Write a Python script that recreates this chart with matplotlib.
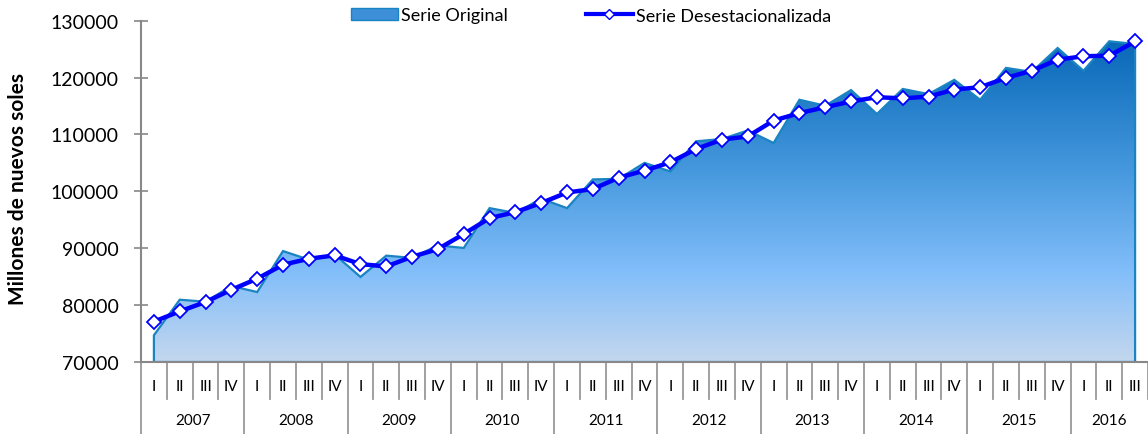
import numpy as np
import matplotlib
matplotlib.use("Agg")
import matplotlib.pyplot as plt
from matplotlib.colors import LinearSegmentedColormap
from matplotlib.patches import Polygon, Patch
from matplotlib.lines import Line2D
import matplotlib.transforms as mtransforms

plt.rcParams['font.family'] = ['Lato', 'DejaVu Sans']

# Quarterly data 2007-I .. 2016-III (millones de nuevos soles)
years = ['2007', '2008', '2009', '2010', '2011', '2012', '2013', '2014', '2015', '2016']
quarters = ['I', 'II', 'III', 'IV']
serie_original = [74700, 80950, 80600, 83350, 82300, 89500, 88000, 88900,
                  84950, 88700, 88300, 90500, 90050, 97050, 96200, 98700,
                  97050, 102100, 102200, 105000, 103500, 108800, 109200, 110700,
                  108500, 116100, 115050, 117800, 113600, 118000, 117100, 119600,
                  116100, 121700, 121000, 125200, 121200, 126380, 125900]
serie_desest = [77100, 78900, 80550, 82700, 84650, 87100, 88150, 88750,
                87200, 86800, 88500, 89850, 92500, 95300, 96350, 97950,
                99800, 100400, 102400, 103650, 105100, 107450, 109100, 109650,
                112450, 113750, 114800, 115800, 116550, 116350, 116650, 117900,
                118300, 119950, 121200, 123150, 123750, 123850, 126350]

n = len(serie_original)
x = np.arange(n)
q_labels = [quarters[i % 4] for i in range(n)]
ybase = 70000

fig = plt.figure(figsize=(11.48, 4.35), dpi=100)
ax = fig.add_axes([141 / 1148, 1 - 363 / 435, 1 - 141 / 1148, (363 - 21.7) / 435])

# gradient filled area for the original series
cmap = LinearSegmentedColormap.from_list('area', [(0.0, '#c4d7ee'), (0.28, '#82befa'),
                                                  (0.6, '#4598dd'), (1.0, '#0868b8')])
orig = np.array(serie_original)
verts = np.column_stack([np.r_[x[0], x, x[-1]], np.r_[ybase, orig, ybase]])
poly = Polygon(verts, closed=True, facecolor='none', edgecolor='#1a84c2', lw=1.6, zorder=2)
ax.add_patch(poly)
grad = np.linspace(0, 1, 256).reshape(-1, 1)
im = ax.imshow(grad, extent=[x[0], x[-1], ybase, orig.max()], origin='lower',
               aspect='auto', cmap=cmap, zorder=1)
im.set_clip_path(poly)

# seasonally adjusted line
ax.plot(x, serie_desest, color='#0000ff', lw=3.2, marker='D', markersize=7,
        markerfacecolor='white', markeredgecolor='#0000ff', markeredgewidth=1.3, zorder=3)

ax.set_xlim(-0.5, n - 0.5)
ax.set_ylim(70000, 130000)
yt = np.arange(70000, 130001, 10000)
ax.set_yticks(yt)
ax.set_yticklabels([str(v) for v in yt], fontsize=14)
ax.tick_params(axis='y', direction='inout', length=10, width=1.2, color='#888888', pad=11)
ax.set_xticks([])
for s in ['top', 'right']:
    ax.spines[s].set_visible(False)
for s in ['left', 'bottom']:
    ax.spines[s].set_color('#888888')
    ax.spines[s].set_linewidth(1.5)

# two-level category axis
trans = mtransforms.blended_transform_factory(ax.transData, ax.transAxes)
q_bottom = -(400 - 363) / 341.3
y_bottom = -(435 - 363) / 341.3
for i in range(n + 1):
    b = i - 0.5
    low = y_bottom if i % 4 == 0 else q_bottom
    ax.plot([b, b], [0, low], transform=trans, color='#999999', lw=1.3, clip_on=False)
for i, lab in enumerate(q_labels):
    ax.text(i, -(387 - 363) / 341.3, lab, transform=trans, ha='center', va='center', fontsize=11)
for k, yr in enumerate(years):
    first = 4 * k
    last = min(4 * k + 3, n - 1)
    ax.text((first + last) / 2, -(421 - 363) / 341.3, yr, transform=trans,
            ha='center', va='center', fontsize=11)

fig.text(18 / 1148, 1 - 189 / 435, 'Millones de nuevos soles', rotation=90,
         ha='center', va='center', fontsize=15, fontweight='bold')

handles = [Patch(facecolor='#3d8fd8', edgecolor='#1a84c2', lw=1),
           Line2D([], [], color='#0000ff', lw=3, marker='D', markersize=5,
                  markerfacecolor='white', markeredgecolor='#0000ff')]
fig.legend(handles, ['Serie Original', 'Serie Desestacionalizada'], loc='center',
           bbox_to_anchor=(591 / 1148, 1 - 16.5 / 435), ncol=2, frameon=False,
           fontsize=13, handlelength=2.6, handleheight=0.6, handletextpad=0.2,
           columnspacing=4.3, borderpad=0)

fig.savefig('out.png', dpi=100)
